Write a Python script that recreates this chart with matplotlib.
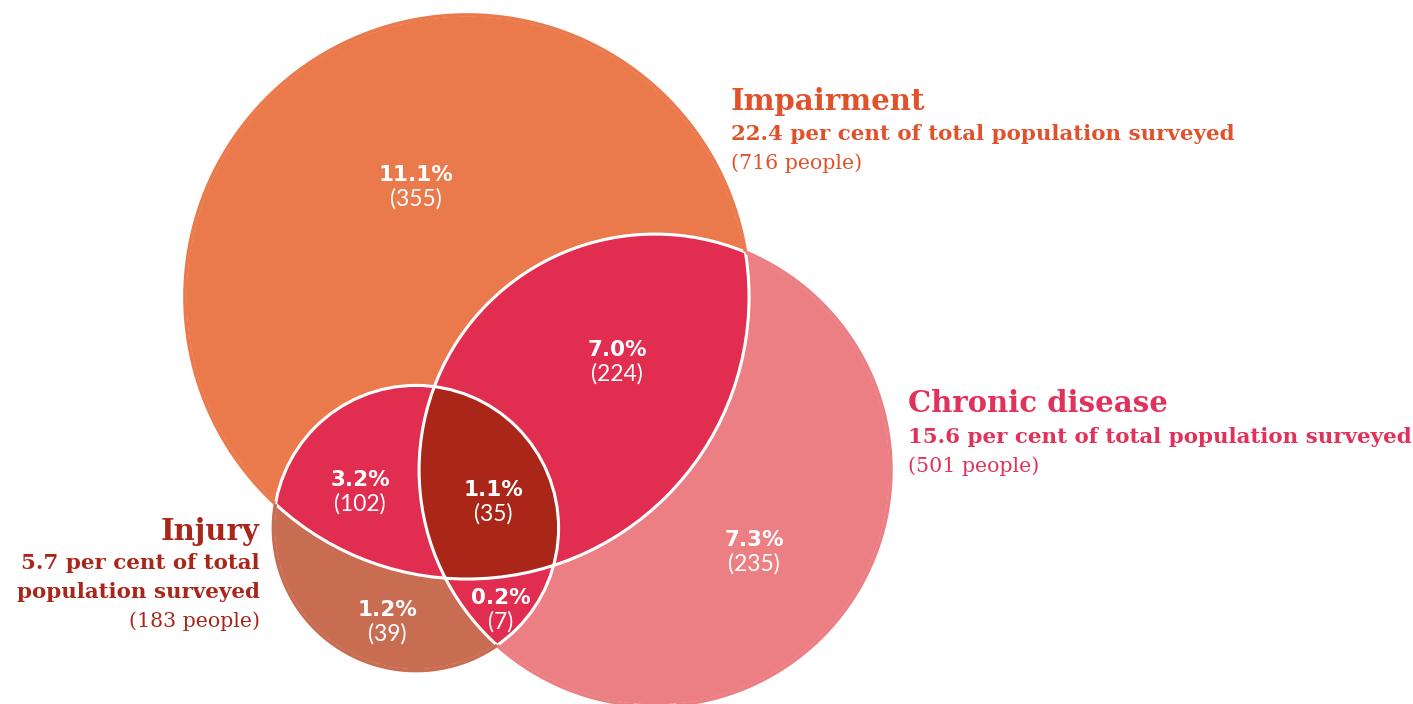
import numpy as np
import matplotlib
matplotlib.use("Agg")
import matplotlib.pyplot as plt
from matplotlib.patches import Circle, Polygon

# ---------------- data ----------------
set_names = ["Impairment", "Chronic disease", "Injury"]
set_pct = [22.4, 15.6, 5.7]
set_people = [716, 501, 183]

# regions: membership in (Impairment, Chronic disease, Injury)
region_keys = ["100", "010", "001", "110", "101", "011", "111"]
region_pct = [11.1, 7.3, 1.2, 7.0, 3.2, 0.2, 1.1]
region_people = [355, 235, 39, 224, 102, 7, 35]

# ---------------- layout (pixels) ----------------
W, H = 1413, 704
centers = [(467, 297), (655, 470), (416, 528)]
scale = 10.54  # px per sqrt(person) -> area proportional circles
radii = [scale * np.sqrt(p) for p in set_people]

only_colors = ["#EA7A4C", "#EC7F84", "#C96D52"]
pair_color = "#E02D50"
triple_color = "#A92618"
title_colors = ["#E0522B", "#E0325A", "#A8271A"]

label_pos = {
    "100": (416, 175), "010": (754, 540), "001": (387, 610),
    "110": (617, 350), "101": (360, 480), "011": (501, 598),
    "111": (493, 490),
}

fig = plt.figure(figsize=(W / 100, H / 100), dpi=100)
ax = fig.add_axes([0, 0, 1, 1])
ax.set_xlim(0, W)
ax.set_ylim(H, 0)
ax.set_aspect("equal")
ax.axis("off")


def intersection_polygon(idx):
    pts = []
    t = np.linspace(0, 2 * np.pi, 3000, endpoint=False)
    for i in idx:
        cx, cy = centers[i]
        r = radii[i]
        x = cx + r * np.cos(t)
        y = cy + r * np.sin(t)
        keep = np.ones_like(x, dtype=bool)
        for j in idx:
            if j == i:
                continue
            dx = x - centers[j][0]
            dy = y - centers[j][1]
            keep &= (dx * dx + dy * dy) <= radii[j] ** 2 + 1e-6
        pts.append(np.column_stack([x[keep], y[keep]]))
    pts = np.vstack(pts)
    c = pts.mean(axis=0)
    ang = np.arctan2(pts[:, 1] - c[1], pts[:, 0] - c[0])
    return pts[np.argsort(ang)]


# base circles
for i in range(3):
    ax.add_patch(Circle(centers[i], radii[i], facecolor=only_colors[i],
                        edgecolor="none", zorder=1))
# pairwise overlaps
for pair in [(0, 1), (0, 2), (1, 2)]:
    ax.add_patch(Polygon(intersection_polygon(pair), closed=True,
                         facecolor=pair_color, edgecolor="none", zorder=2))
# triple overlap
ax.add_patch(Polygon(intersection_polygon((0, 1, 2)), closed=True,
                     facecolor=triple_color, edgecolor="none", zorder=3))
# white outlines
for i in range(3):
    ax.add_patch(Circle(centers[i], radii[i], facecolor="none",
                        edgecolor="white", lw=2.2, zorder=4))
# outer edges take the fill colour (no white rim on the outside)
t = np.linspace(0, 2 * np.pi, 3000)
for i in range(3):
    cx, cy = centers[i]
    r = radii[i]
    x = cx + r * np.cos(t)
    y = cy + r * np.sin(t)
    outside = np.ones_like(x, dtype=bool)
    for j in range(3):
        if j == i:
            continue
        dx = x - centers[j][0]
        dy = y - centers[j][1]
        outside &= (dx * dx + dy * dy) > radii[j] ** 2
    xs = np.where(outside, x, np.nan)
    ys = np.where(outside, y, np.nan)
    ax.plot(xs, ys, color=only_colors[i], lw=2.6, zorder=4.5,
            solid_capstyle="butt")

# region labels
for k, p, n in zip(region_keys, region_pct, region_people):
    x, y = label_pos[k]
    ax.text(x, y, f"{p:.1f}%", color="white", fontsize=15.5,
            fontweight="bold", family="DejaVu Sans", ha="center",
            va="center", zorder=6)
    ax.text(x, y + 24, f"({n})", color="white", fontsize=16.5,
            fontweight="normal", family="Lato", ha="center", va="center",
            zorder=6)

# set titles
title_specs = [
    (731, [110, 140, 169],
     [f"{set_names[0]}", f"{set_pct[0]} per cent of total population surveyed",
      f"({set_people[0]} people)"]),
    (908, [412, 443, 472],
     [f"{set_names[1]}", f"{set_pct[1]} per cent of total population surveyed",
      f"({set_people[1]} people)"]),
]
for i, (x, ys, lines) in enumerate(title_specs):
    ax.text(x, ys[0], lines[0], color=title_colors[i], fontsize=21,
            fontweight="bold", family="DejaVu Serif", ha="left", va="baseline")
    ax.text(x, ys[1], lines[1], color=title_colors[i], fontsize=15.4,
            fontweight="bold", family="DejaVu Serif", ha="left", va="baseline")
    ax.text(x, ys[2], lines[2], color=title_colors[i], fontsize=14.8,
            family="DejaVu Serif", ha="left", va="baseline")

# injury title, right aligned
xi = 260
ax.text(xi, 540, set_names[2], color=title_colors[2], fontsize=21,
        fontweight="bold", family="DejaVu Serif", ha="right", va="baseline")
ax.text(xi, 569, f"{set_pct[2]} per cent of total", color=title_colors[2],
        fontsize=15.4, fontweight="bold", family="DejaVu Serif", ha="right",
        va="baseline")
ax.text(xi, 598, "population surveyed", color=title_colors[2], fontsize=15.4,
        fontweight="bold", family="DejaVu Serif", ha="right", va="baseline")
ax.text(xi, 627, f"({set_people[2]} people)", color=title_colors[2],
        fontsize=14.8, family="DejaVu Serif", ha="right", va="baseline")

fig.savefig("out.png", dpi=100, facecolor="white")
